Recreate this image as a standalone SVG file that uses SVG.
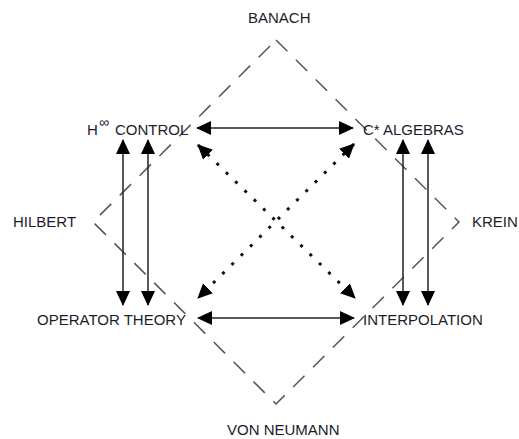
<svg xmlns="http://www.w3.org/2000/svg" width="519" height="439" viewBox="0 0 519 439">
  <style>
    .lbl { font-family: "Liberation Sans", Arial, sans-serif; font-size: 15px; fill: #1c1c2a; }
    .sup { font-family: "Liberation Sans", "DejaVu Sans", sans-serif; font-size: 14px; fill: #1c1c2a; }
    .solid { stroke: #222; stroke-width: 1.5; fill: none; }
    .dots { stroke: #111; stroke-width: 3; fill: none; stroke-dasharray: 3 10; }
    .frame { stroke: #555; stroke-width: 1.5; fill: none; stroke-dasharray: 16 12; }
  </style>
  <defs>
    <marker id="head" viewBox="0 0 15 14" refX="14" refY="7" markerWidth="15" markerHeight="14" markerUnits="userSpaceOnUse" orient="auto-start-reverse">
      <path d="M0,0 L15,7 L0,14 z" fill="#000"/>
    </marker>
  </defs>

  <rect width="519" height="439" fill="#fff"/>

  <!-- dashed diamond joining the four outer names -->
  <g id="frame">
    <polygon class="frame" points="276,40 459,222 276,404 93,222"/>
  </g>

  <!-- outer labels -->
  <g id="banach"><text class="lbl" x="248" y="23">BANACH</text></g>
  <g id="hilbert"><text class="lbl" x="13" y="227">HILBERT</text></g>
  <g id="krein"><text class="lbl" x="472" y="227">KREIN</text></g>
  <g id="von-neumann"><text class="lbl" x="227" y="435">VON NEUMANN</text></g>

  <!-- the four fields -->
  <g id="h-inf-control">
    <text class="lbl" x="87" y="135">H</text>
    <text class="sup" x="99" y="127">∞</text>
    <text class="lbl" x="115" y="135">CONTROL</text>
  </g>
  <g id="c-star-algebras"><text class="lbl" x="363" y="135">C* ALGEBRAS</text></g>
  <g id="operator-theory"><text class="lbl" x="37" y="325">OPERATOR THEORY</text></g>
  <g id="interpolation"><text class="lbl" x="363" y="325">INTERPOLATION</text></g>

  <!-- connectors -->
  <g id="connectors">
    <line class="solid" x1="197" y1="128" x2="353" y2="128" marker-start="url(#head)" marker-end="url(#head)"/>
    <line class="solid" x1="198" y1="318" x2="354" y2="318" marker-start="url(#head)" marker-end="url(#head)"/>
    <line class="solid" x1="123" y1="140" x2="123" y2="305" marker-start="url(#head)" marker-end="url(#head)"/>
    <line class="solid" x1="148" y1="140" x2="148" y2="305" marker-start="url(#head)" marker-end="url(#head)"/>
    <line class="solid" x1="403" y1="140" x2="403" y2="305" marker-start="url(#head)" marker-end="url(#head)"/>
    <line class="solid" x1="428" y1="140" x2="428" y2="305" marker-start="url(#head)" marker-end="url(#head)"/>
    <line class="dots" x1="198" y1="145" x2="355" y2="298" marker-start="url(#head)" marker-end="url(#head)"/>
    <line class="dots" x1="354" y1="144" x2="198" y2="298" marker-start="url(#head)" marker-end="url(#head)"/>
  </g>
</svg>
